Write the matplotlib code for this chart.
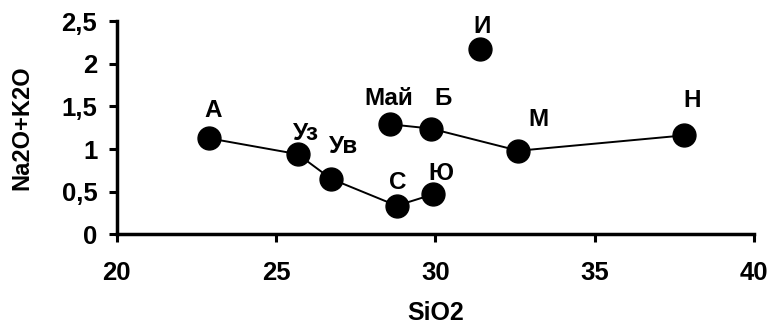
import matplotlib
matplotlib.use("Agg")
import matplotlib.pyplot as plt

plt.rcParams['font.family'] = ['Liberation Sans', 'DejaVu Sans']

# Series 1 (connected)
s1_labels = ["А", "Уз", "Ув", "С", "Ю"]
s1_x = [22.91, 25.68, 26.73, 28.79, 29.94]
s1_y = [1.125, 0.94, 0.65, 0.335, 0.47]

# Series 2 (connected)
s2_labels = ["Май", "Б", "М", "Н"]
s2_x = [28.58, 29.86, 32.61, 37.81]
s2_y = [1.29, 1.24, 0.98, 1.16]

# Single point
s3_labels = ["И"]
s3_x = [31.41]
s3_y = [2.17]

# label offsets in pixels (dx, dy) above each point
offsets = {
    "А": (4, 28), "Уз": (8, 21), "Ув": (12, 32), "С": (1, 23), "Ю": (7, 21),
    "Май": (-1, 26), "Б": (12, 30), "М": (20, 31), "Н": (8, 35), "И": (2, 23),
}

xticks = [20, 25, 30, 35, 40]
yticks = [0, 0.5, 1, 1.5, 2, 2.5]
ytick_labels = ["0", "0,5", "1", "1,5", "2", "2,5"]

fig = plt.figure(figsize=(7.74, 3.30), dpi=100)
ax = fig.add_axes([0.1508, 0.290, 0.974 - 0.1508, 0.936 - 0.290])

ms = 16.5
for xs, ys in [(s1_x, s1_y), (s2_x, s2_y)]:
    ax.plot(xs, ys, color='black', lw=1.4, marker='o', ms=ms,
            markerfacecolor='black', markeredgecolor='black', clip_on=False)
ax.plot(s3_x, s3_y, ls='none', marker='o', ms=ms, color='black', clip_on=False)

for labs, xs, ys in [(s1_labels, s1_x, s1_y), (s2_labels, s2_x, s2_y), (s3_labels, s3_x, s3_y)]:
    for lab, x, y in zip(labs, xs, ys):
        dx, dy = offsets[lab]
        ax.annotate(lab, (x, y), xytext=(dx * 0.72, dy * 0.72), textcoords='offset points',
                    ha='center', va='center', fontsize=17.5, fontweight='bold')

ax.set_xlim(20, 40)
ax.set_ylim(0, 2.5)
ax.set_xticks(xticks)
ax.set_xticklabels([str(t) for t in xticks])
ax.set_yticks(yticks)
ax.set_yticklabels(ytick_labels)

for s in ['top', 'right']:
    ax.spines[s].set_visible(False)
for s in ['left', 'bottom']:
    ax.spines[s].set_linewidth(2.5)
    ax.spines[s].set_color('black')

ax.tick_params(axis='both', direction='out', length=6, width=2.2, labelsize=18.5)
for lab in ax.get_xticklabels() + ax.get_yticklabels():
    lab.set_fontweight('bold')
ax.tick_params(axis='x', pad=13)
ax.tick_params(axis='y', pad=8)

ax.set_xlabel("SiO2", fontsize=18, fontweight='bold', va='center')
ax.xaxis.set_label_coords(0.5, -0.369)
ax.set_ylabel("Na2O+K2O", fontsize=17, fontweight='bold', va='center')
ax.yaxis.set_label_coords(-0.1486, 0.5)

fig.savefig("out.png", dpi=100)
